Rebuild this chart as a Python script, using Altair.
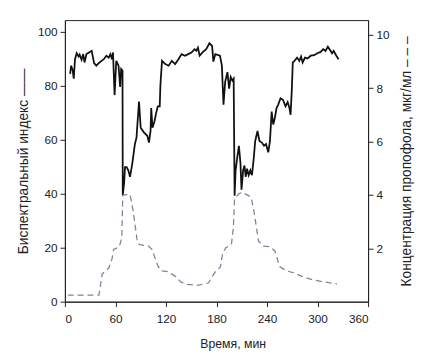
import altair as alt
import pandas as pd

# Bispectral index (solid black line)
bis_t = [6.2, 7.4, 9.3, 10.5, 12, 14, 16.3, 17.5, 19.8, 21.7, 23.3, 25.6, 28.7, 31.8, 34.6, 37.3,
         40.4, 43.5, 46.2, 49.3, 52, 54, 55.9, 57.1, 59, 61, 63.7, 65.6, 66.8, 68.4, 68.7, 70.3,
         71.4, 73.3, 75.3, 77.3, 80, 83.1, 85, 88, 90, 94, 97.9, 99.8, 101.7, 102.5, 104, 106.4,
         108.3, 110.3, 112.6, 113.4, 115.3, 119.2, 123.1, 127, 130.9, 134.8, 138.6, 142.5, 146.4,
         150.3, 154.1, 156.1, 158, 160, 164, 167.8, 171.6, 174.8, 176.3, 178.6, 184.1, 186.4,
         188.3, 190.3, 193, 195, 196.9, 198.9, 200.4, 201.5, 202.7, 204.7, 206.6, 208.5, 209.7,
         211.6, 213.2, 214.7, 216.3, 218.2, 220.2, 222.1, 224, 226, 228.7, 231, 233.8, 236.5,
         238.8, 241.5, 243.5, 245.5, 247.4, 249.3, 251.3, 253.2, 256, 259, 262, 264.5, 266.5,
         268, 269.5, 270.6, 272.6, 275.7, 278.4, 280.4, 282.3, 285.1, 288.1, 292, 295.9, 299.8,
         303.7, 306.7, 309.5, 312.2, 315.4, 317.2, 319.2, 322.3, 325]
bis_v = [84.5, 87.5, 85.7, 82.7, 89.9, 92.1, 90.9, 91.6, 89.7, 91.8, 88.7, 91.8, 92.4, 93, 88.5, 87.5,
         88.5, 89.3, 89.9, 91.2, 90.5, 91.8, 89.9, 92.4, 76.6, 89.3, 87.5, 79.6, 86.3, 85.7, 39.6, 43.9,
         49.9, 49.9, 48.7, 46.3, 51.2, 58.4, 60.8, 74.2, 64.5, 62.7, 61.5, 59, 63.3, 71.8, 64.5, 66.9,
         69.9, 72.4, 72.4, 80.2, 89.3, 88.1, 87.5, 89.3, 88.1, 89.9, 91.8, 91.2, 91.8,
         92.4, 93.6, 93, 94.2, 91.2, 92.6, 93.6, 95.8, 94.8, 89, 91.8, 91.2, 87.5,
         73, 81.5, 85.1, 79, 83.3, 82, 82.7, 39.3, 48.7, 53.6, 57.8, 51.2, 41.5,
         48.7, 50.5, 46.3, 49.3, 46.9, 48.7, 46.9, 52.4, 59.6, 63.3, 59.6, 59, 57.8,
         58.4, 55.4, 59.6, 70.5, 65.7, 68.1, 71.8, 73, 75.4, 74.8, 72.4, 74, 72,
         69.3, 79, 88.7, 89.3, 90.5, 89.3, 90.9, 88.7, 90.5, 90.2, 91.2, 91.4, 92.1,
         92.6, 93.6, 93, 94.5, 93, 92.1, 93, 91.2, 89.9]

# Propofol concentration (dashed grey line)
prop_t = [3.5, 40.4, 44.3, 52, 55.9, 57.9, 64.5, 67.6, 68.7, 71, 77.3, 81.2, 86.2, 88.9, 99.4,
          103.3, 110.3, 114.2, 122, 131.6, 137.5, 145.2, 156.9, 170.4, 174.4, 179.4, 184.5,
          187.2, 191, 197.7, 200, 201.5, 206.6, 210.5, 216.3, 221, 224, 229.9, 235.7, 243.5,
          249.3, 255.1, 263, 272.6, 282.3, 294, 307.6, 323]
prop_v = [0.25, 0.25, 1.04, 1.26, 1.6, 1.96, 2.05, 2.4, 3.98, 4.0, 4.02, 3.37, 2.2, 2.14, 2.08,
          1.96, 1.35, 1.16, 1.13, 0.94, 0.74, 0.65, 0.61, 0.70, 0.92, 1.16, 1.29,
          1.78, 2.02, 2.14, 2.76, 3.86, 4.04, 4.1, 4.0, 3.92, 3.49, 2.27, 2.08, 2.06,
          1.9, 1.31, 1.16, 1.07, 0.94, 0.82, 0.74, 0.67]

x_ticks = [0, 60, 120, 180, 240, 300, 360]
left_ticks = [0, 20, 40, 60, 80, 100]
right_ticks = [2, 4, 6, 8, 10]

bis_df = pd.DataFrame({"t": bis_t, "v": bis_v})
prop_df = pd.DataFrame({"t": prop_t, "c": prop_v})

FONT = "Liberation Sans"

x_enc = alt.X("t:Q", scale=alt.Scale(domain=[0, 360], nice=False, zero=False),
              axis=alt.Axis(values=x_ticks, title="Время, мин", grid=False,
                            tickSize=5, labelPadding=7, titlePadding=14,
                            titleFontSize=12.5, titleX=171, titleAlign="center",
                            domainColor="#222", tickColor="#222"))

bis = alt.Chart(bis_df).mark_line(color="#111", strokeWidth=1.8, interpolate="linear").encode(
    x=x_enc,
    y=alt.Y("v:Q", scale=alt.Scale(domain=[0, 104.4], nice=False),
            axis=alt.Axis(values=left_ticks, title="Биспектральный индекс  ——",
                          grid=False, tickSize=5, labelPadding=3, titlePadding=7,
                          titleFontSize=14,
                          domainColor="#222", tickColor="#222", titleAngle=-90))
)

prop = alt.Chart(prop_df).mark_line(color="#7f8499", strokeWidth=1.3,
                                    strokeDash=[6, 4]).encode(
    x=alt.X("t:Q", scale=alt.Scale(domain=[0, 360], nice=False, zero=False)),
    y=alt.Y("c:Q", scale=alt.Scale(domain=[0, 10.55], nice=False),
            axis=alt.Axis(values=right_ticks, orient="right",
                          title="Концентрация пропофола, мкг/мл  – – –",
                          grid=False, tickSize=5, labelPadding=3, titlePadding=11,
                          titleFontSize=14, titleBaseline="top",
                          domainColor="#222", tickColor="#222", titleAngle=-90))
)

chart = alt.layer(bis, prop).resolve_scale(y="independent").properties(
    width=309, height=287,
    autosize=alt.AutoSizeParams(type="none"),
    padding={"left": 58, "top": 9, "right": 57, "bottom": 51},
).configure_view(stroke="#222", strokeWidth=1).configure_axis(
    labelFont=FONT, titleFont=FONT, labelFontSize=12,
    titleFontWeight="normal", labelColor="#222", titleColor="#222"
)

chart.save("out.html", embed_options={"renderer": "svg", "actions": False})
